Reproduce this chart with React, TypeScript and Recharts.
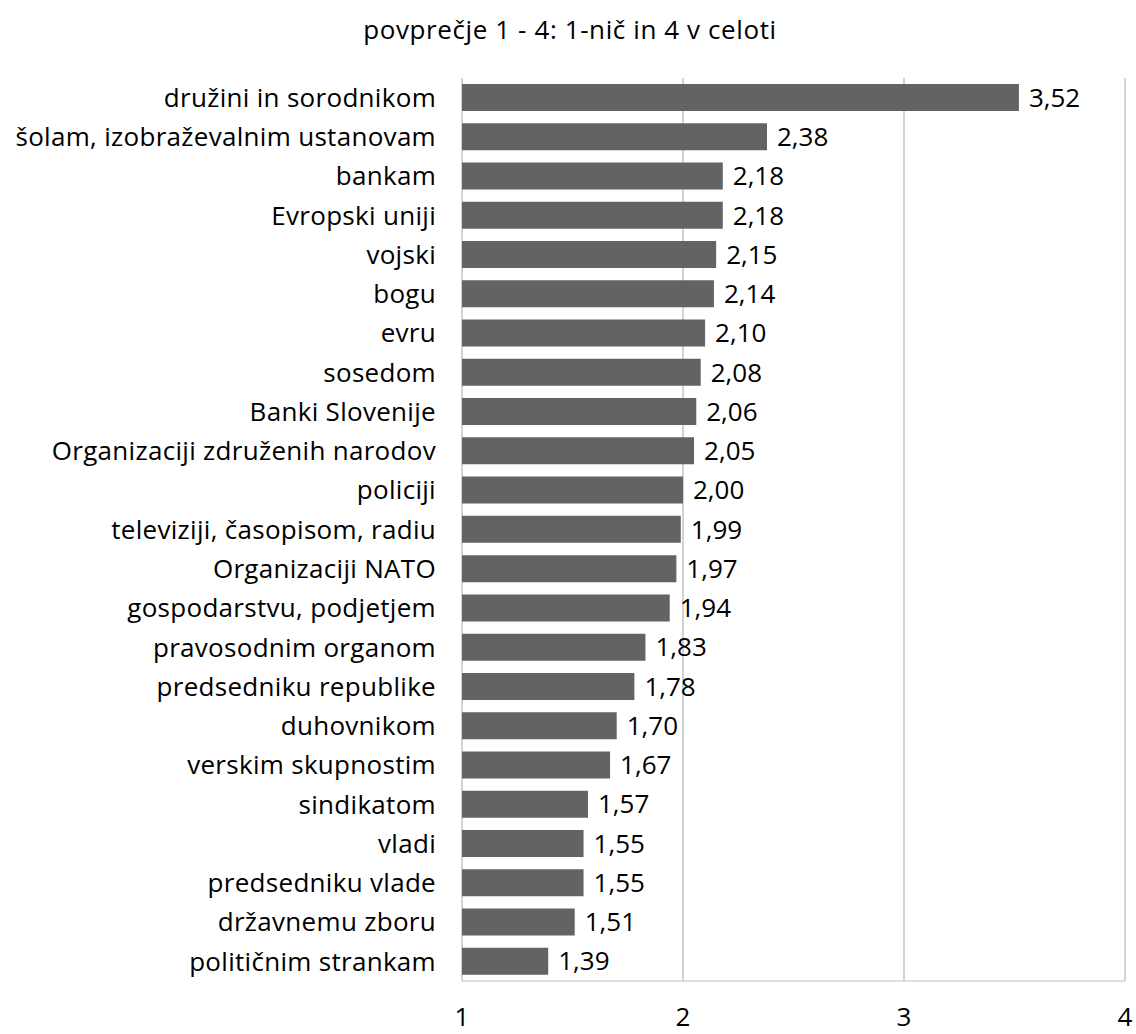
import { Bar, BarChart, CartesianGrid, LabelList, XAxis, YAxis } from "recharts";

const categories = [
  "družini in sorodnikom",
  "šolam, izobraževalnim ustanovam",
  "bankam",
  "Evropski uniji",
  "vojski",
  "bogu",
  "evru",
  "sosedom",
  "Banki Slovenije",
  "Organizaciji združenih narodov",
  "policiji",
  "televiziji, časopisom, radiu",
  "Organizaciji NATO",
  "gospodarstvu, podjetjem",
  "pravosodnim organom",
  "predsedniku republike",
  "duhovnikom",
  "verskim skupnostim",
  "sindikatom",
  "vladi",
  "predsedniku vlade",
  "državnemu zboru",
  "političnim strankam"
];

const averages = [
  3.52, 2.38, 2.18, 2.18, 2.15, 2.14, 2.1, 2.08, 2.06, 2.05, 2.0, 1.99, 1.97, 1.94, 1.83, 1.78, 1.7, 1.67, 1.57,
  1.55, 1.55, 1.51, 1.39
];

const xTicks = [1, 2, 3, 4];

const title = "povprečje 1 - 4: 1-nič in 4 v celoti";

const data = categories.map((name, i) => ({ name, value: averages[i] }));

const font = "'Open Sans', sans-serif";

const fmt = (v: number) => v.toFixed(2).replace(".", ",");

export default function App() {
  return (
    <div style={{ position: "absolute", left: 0, top: 0, width: 1136, height: 1034, background: "#fff" }}>
      <svg width={1136} height={60} style={{ position: "absolute", left: 0, top: 0 }}>
        <text x={570} y={39} textAnchor="middle" fontFamily={font} fontSize={26} letterSpacing={0.6} fill="#000">
          {title}
        </text>
      </svg>
      <BarChart
        width={1136}
        height={1034}
        data={data}
        layout="vertical"
        margin={{ top: 78, right: 11, left: 0, bottom: 0 }}
        barSize={27}
      >
        <CartesianGrid horizontal={false} stroke="#a6a6a6" />
        <XAxis
          type="number"
          domain={[1, 4]}
          ticks={xTicks}
          height={53}
          tickLine={false}
          tickMargin={21}
          axisLine={{ stroke: "#bfbfbf" }}
          tick={{ fill: "#000", fontSize: 26, fontFamily: font }}
        />
        <YAxis
          type="category"
          dataKey="name"
          width={462}
          tickLine={false}
          axisLine={false}
          tickMargin={20}
          interval={0}
          tick={{ fill: "#000", fontSize: 26, fontFamily: font, letterSpacing: 0.3 }}
        />
        <Bar dataKey="value" fill="#636363" isAnimationActive={false}>
          <LabelList
            dataKey="value"
            position="right"
            offset={10}
            formatter={(v: number) => fmt(Number(v))}
            style={{ fill: "#000", fontSize: 26, fontFamily: font }}
          />
        </Bar>
      </BarChart>
    </div>
  );
}
